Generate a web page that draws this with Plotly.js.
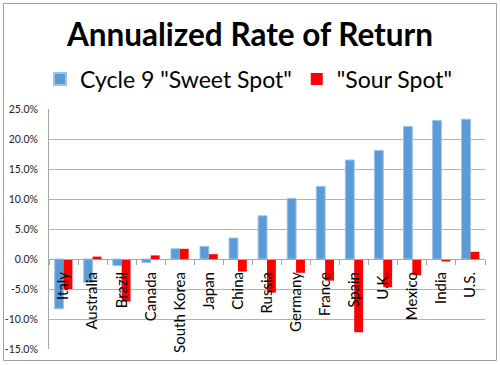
<!DOCTYPE html>
<html>
<head>
<meta charset="utf-8">
<script src="https://cdn.plot.ly/plotly-3.0.1.min.js"></script>
<style>
html,body{margin:0;padding:0;background:#fff;}
#chart{width:500px;height:365px;}
</style>
</head>
<body>
<div id="chart"></div>
<script>
var countries = ["Italy","Australia","Brazil","Canada","South Korea","Japan","China","Russia","Germany","France","Spain","U.K.","Mexico","India","U.S."];
var sweetSpot = [-8.3,-3.9,-1.1,-0.6,1.7,2.1,3.5,7.2,10.1,12.1,16.5,18.1,22.1,23.1,23.3];
var sourSpot = [-5.0,0.4,-7.1,0.6,1.7,0.8,-2.1,-5.6,-2.3,-3.6,-12.2,-4.7,-2.7,-0.4,1.2];
var yTicks = [-15,-10,-5,0,5,10,15,20,25];
var yTickLabels = ["-15.0%","-10.0%","-5.0%","0.0%","5.0%","10.0%","15.0%","20.0%","25.0%"];

var W = 500, H = 365;
var mL = 49, mR = 15, mT = 109, mB = 16;
var pw = W - mL - mR, ph = H - mT - mB;
function px2x(p){ return (p - mL) / pw; }
function py2y(p){ return (H - mB - p) / ph; }

var font = "Lato, 'Open Sans', Calibri, sans-serif";

var traces = [
  {type:"bar", name:'Cycle 9 "Sweet Spot"', x:countries, y:sweetSpot,
   marker:{color:"#5b9bd5", line:{color:"#9cc3e8", width:1}}},
  {type:"bar", name:'"Sour Spot"', x:countries, y:sourSpot,
   marker:{color:"#ff0000", line:{width:0}}}
];

var layout = {
  width: W, height: H,
  margin:{l:mL, r:mR, t:mT, b:mB, pad:0},
  paper_bgcolor:"#fff", plot_bgcolor:"#fff",
  font:{family:font, color:"#000"},
  title:{text:"<b>Annualized Rate of Return</b>", font:{size:31.5, family:font, color:"#000"},
         x:0.5, xanchor:"center", xref:"container", y:1-35/H, yanchor:"middle", yref:"container"},
  showlegend:true,
  legend:{orientation:"h", x:px2x(40), xanchor:"left", y:py2y(79), yanchor:"middle",
          font:{size:23, family:font, color:"#000"}, bgcolor:"rgba(0,0,0,0)", itemsizing:"constant"},
  barmode:"group", bargap:0.39, bargroupgap:0,
  xaxis:{type:"category", anchor:"free", position:15/40, showgrid:false,
         showline:true, linecolor:"#a6a6a6", linewidth:1,
         ticks:"outside", tickson:"boundaries", ticklen:5, tickcolor:"#a6a6a6",
         tickangle:-90, ticklabelstandoff:6, tickfont:{size:15, family:font, color:"#000"},
         zeroline:false, fixedrange:true},
  yaxis:{range:[-15,25], tickvals:yTicks, ticktext:yTickLabels,
         showgrid:true, gridcolor:"#b3b3b3", gridwidth:1,
         showline:true, linecolor:"#a6a6a6", linewidth:1,
         ticks:"", ticklabelstandoff:8, tickfont:{size:10.5, family:font, color:"#222"},
         zeroline:false, fixedrange:true},
  shapes:[
    {type:"rect", xref:"paper", yref:"paper", x0:px2x(3.5), x1:px2x(496.5), y0:py2y(360.5), y1:py2y(3.5),
     line:{color:"#a0a0a0", width:1}, fillcolor:"rgba(0,0,0,0)", layer:"below"}
  ]
};

Plotly.newPlot("chart", traces, layout, {staticPlot:true, displayModeBar:false});
</script>
</body>
</html>
